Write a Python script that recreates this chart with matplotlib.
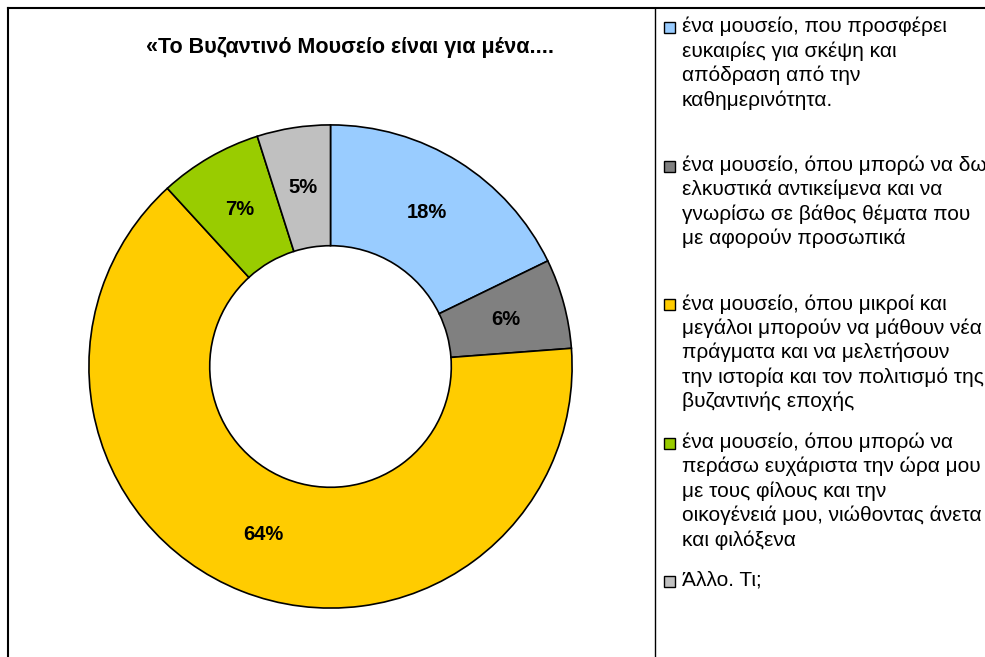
import matplotlib.pyplot as plt
from matplotlib.lines import Line2D
from matplotlib.patches import Rectangle

plt.rcParams['font.family'] = ['Liberation Sans', 'DejaVu Sans']

title = "«Το Βυζαντινό Μουσείο είναι για μένα...."
labels = [
    "ένα μουσείο, που προσφέρει\nευκαιρίες για σκέψη και\nαπόδραση από την\nκαθημερινότητα.",
    "ένα μουσείο, όπου μπορώ να δω\nελκυστικά αντικείμενα και να\nγνωρίσω σε βάθος θέματα που\nμε αφορούν προσωπικά",
    "ένα μουσείο, όπου μικροί και\nμεγάλοι μπορούν να μάθουν νέα\nπράγματα και να μελετήσουν\nτην ιστορία και τον πολιτισμό της\nβυζαντινής εποχής",
    "ένα μουσείο, όπου μπορώ να\nπεράσω ευχάριστα την ώρα μου\nμε τους φίλους και την\nοικογένειά μου, νιώθοντας άνετα\nκαι φιλόξενα",
    "Άλλο. Τι;",
]
shares = [17.8, 6.0, 64.4, 6.9, 4.9]
colors = ["#99CCFF", "#808080", "#FFCC00", "#99CC00", "#C0C0C0"]

W, H = 985, 657
fig = plt.figure(figsize=(W / 100, H / 100), dpi=100)

# donut: centre (330, 366), outer radius 244 px
cx, cy, r = 330.5, 366.5, 244
ax = fig.add_axes([(cx - r) / W, (H - cy - r) / H, 2 * r / W, 2 * r / H])
wedges, texts, autotexts = ax.pie(
    shares, colors=colors, startangle=90, counterclock=False,
    autopct=lambda p: f"{p:.0f}%", pctdistance=0.75,
    wedgeprops=dict(width=0.5, edgecolor="black", linewidth=1.2),
    textprops=dict(fontsize=14.5, fontweight="bold", color="black"),
)
ax.set_xlim(-1.01, 1.01)
ax.set_ylim(-1.01, 1.01)

fig.text(350 / W, 1 - 47 / H, title, ha="center", va="center",
         fontsize=15.5, fontweight="bold")

# frame lines
fig.add_artist(Line2D([8 / W, 1], [1 - 8 / H, 1 - 8 / H], color="black", lw=1.5))
fig.add_artist(Line2D([8 / W, 8 / W], [0, 1 - 8 / H], color="black", lw=1.5))
fig.add_artist(Line2D([655 / W, 655 / W], [0, 1 - 8 / H], color="black", lw=1))

# legend, one slot per entry
top, step = 25, 138.5
for i, (lab, col) in enumerate(zip(labels, colors)):
    y = top + i * step
    fig.add_artist(Rectangle((664 / W, 1 - (y + 8) / H), 11 / W, 11 / H,
                             facecolor=col, edgecolor="black", lw=1,
                             transform=fig.transFigure))
    fig.text(682 / W, 1 - (y - 8) / H, lab, ha="left", va="top",
             fontsize=15, linespacing=1.32)

fig.savefig("out.png", dpi=100, facecolor="white")
